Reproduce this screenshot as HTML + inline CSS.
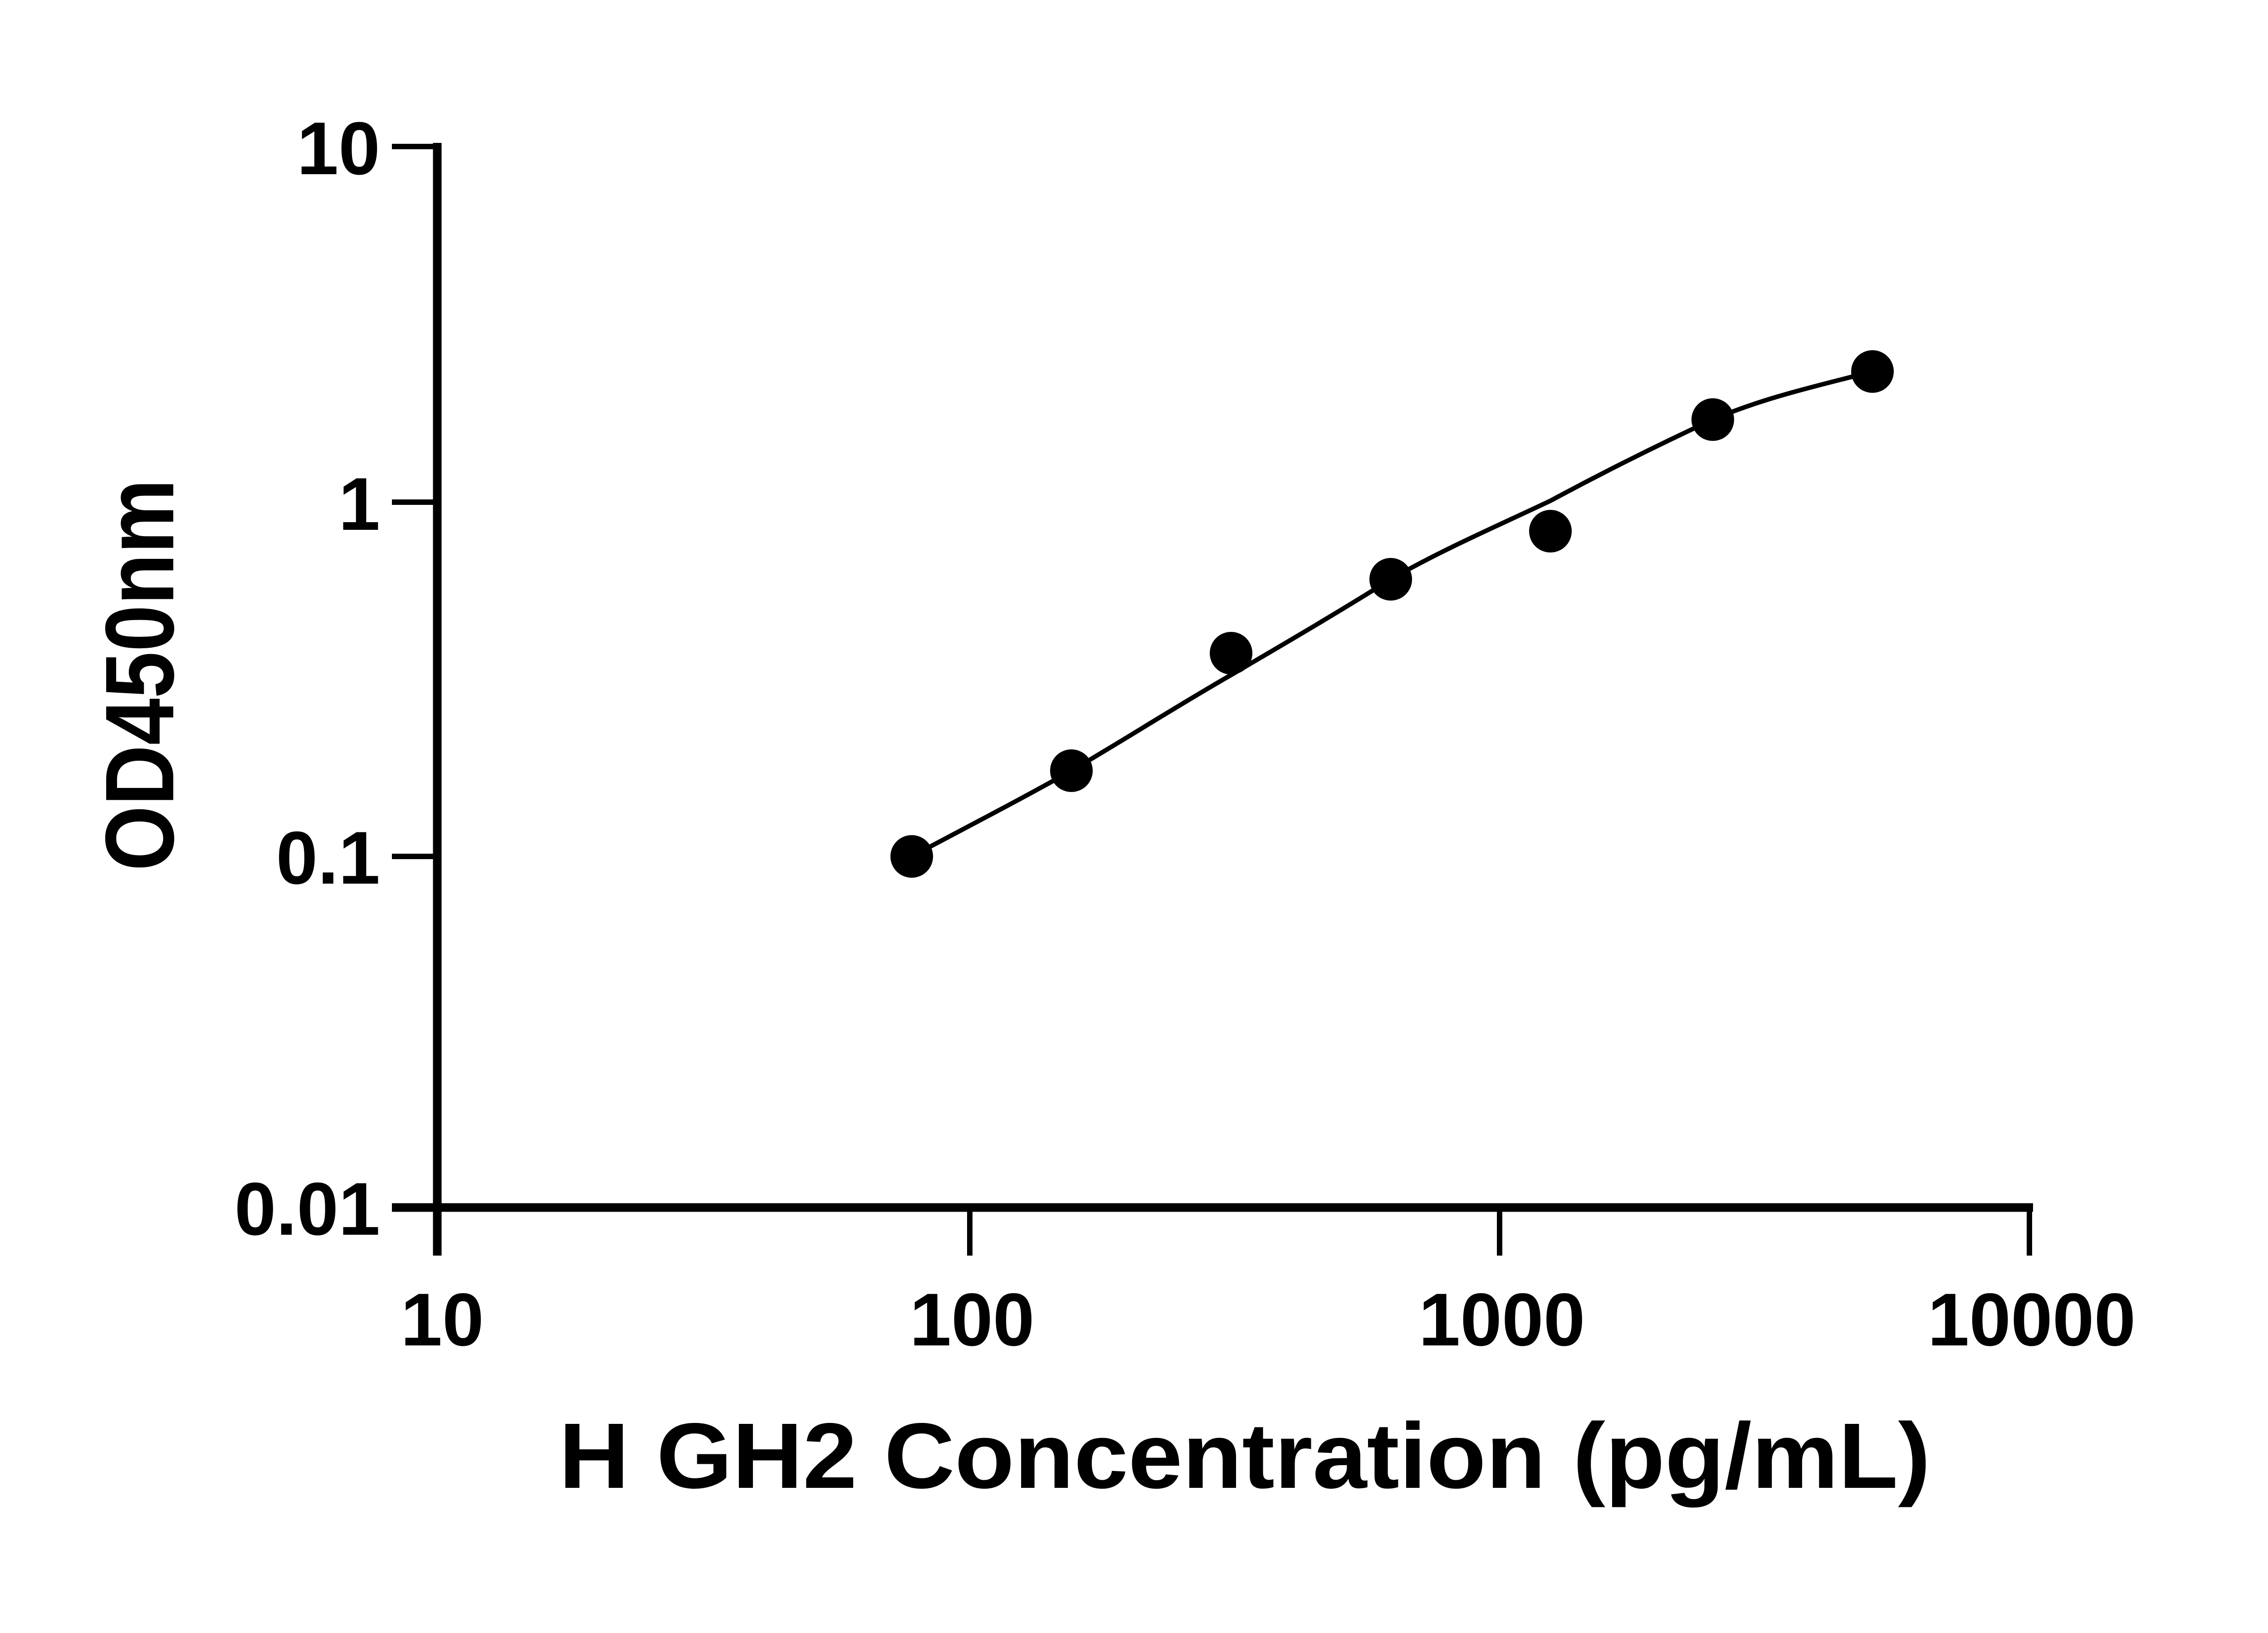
<!DOCTYPE html>
<html><head><meta charset="utf-8"><style>html,body{margin:0;padding:0;background:#fff}svg{display:block}</style></head>
<body>
<svg width="5142" height="3600" viewBox="0 0 5142 3600" xmlns="http://www.w3.org/2000/svg">
<rect width="5142" height="3600" fill="#fff"/>
<g stroke="#000" fill="none">
<line x1="964" y1="315" x2="964" y2="2768" stroke-width="19"/>
<line x1="864" y1="2662" x2="4482" y2="2662" stroke-width="19"/>
<g stroke-width="12">
<line x1="864" y1="323" x2="964" y2="323"/>
<line x1="864" y1="1107" x2="964" y2="1107"/>
<line x1="864" y1="1888" x2="964" y2="1888"/>
<line x1="2138" y1="2662" x2="2138" y2="2768"/>
<line x1="3306" y1="2662" x2="3306" y2="2768"/>
<line x1="4474" y1="2662" x2="4474" y2="2768"/>
</g>
<path d="M2010,1888 C2128,1825 2245,1765 2362,1699 C2480,1630 2597,1555 2714,1488 C2830,1420 2950,1350 3066,1277 C3183,1210 3300,1160 3418,1104 C3537,1040 3657,980 3776,925 C3893,875 4010,850 4128,819" stroke-width="10"/>
</g>
<g fill="#000">
<circle cx="2010" cy="1888" r="47"/>
<circle cx="2362" cy="1699" r="47"/>
<circle cx="2714" cy="1440" r="47"/>
<circle cx="3066" cy="1277" r="47"/>
<circle cx="3418" cy="1171" r="47"/>
<circle cx="3776" cy="925" r="47"/>
<circle cx="4128" cy="819" r="47"/>
</g>
<g font-family="Liberation Sans, sans-serif" font-weight="bold" font-size="165" fill="#000">
<text x="838" y="384" text-anchor="end">10</text>
<text x="838" y="1168" text-anchor="end">1</text>
<text x="838" y="1948" text-anchor="end">0.1</text>
<text x="838" y="2722" text-anchor="end">0.01</text>
<text x="975" y="2966" text-anchor="middle">10</text>
<text x="2143" y="2966" text-anchor="middle">100</text>
<text x="3311" y="2966" text-anchor="middle">1000</text>
<text x="4479" y="2966" text-anchor="middle">10000</text>
</g>
<text x="1232" y="3280" font-family="Liberation Sans, sans-serif" font-weight="bold" font-size="205" textLength="3024" lengthAdjust="spacingAndGlyphs">H GH2 Concentration (pg/mL)</text>
<text transform="translate(382,1920) rotate(-90)" x="0" y="0" font-family="Liberation Sans, sans-serif" font-weight="bold" font-size="215" textLength="864" lengthAdjust="spacingAndGlyphs">OD450nm</text>
</svg>
</body></html>
